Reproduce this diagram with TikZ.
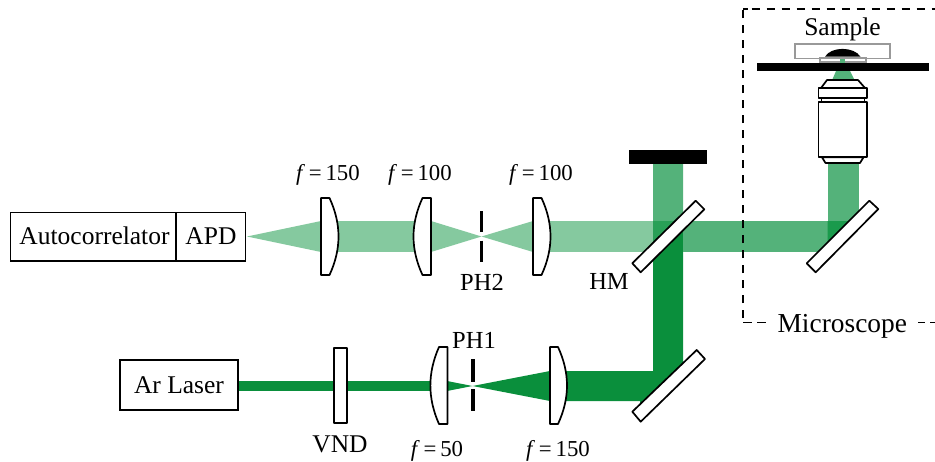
\documentclass[tikz,border=0pt]{standalone}
\usepackage{fontspec}
\setmainfont{Liberation Serif}
\definecolor{beamdark}{HTML}{0A8F3C}
\definecolor{beammid}{HTML}{54B27A}
\definecolor{beamlight}{HTML}{85C99F}
\definecolor{beamover}{HTML}{1A9A4C}
\definecolor{samplegray}{HTML}{999999}
\tikzset{
  x=1pt,y=-1pt,
  optic/.style={draw=black,line width=1.7pt,fill=white,line join=round},
  objpart/.style={draw=black,line width=1.7pt,fill=white,line join=round},
  boxed/.style={draw=black,line width=1.3pt,fill=white,inner sep=0pt},
  lbl/.style={anchor=base,inner sep=0pt,font=\fontsize{25.5}{26}\selectfont},
  lblb/.style={anchor=base,inner sep=0pt,font=\fontsize{24.5}{26}\selectfont},
  flbl/.style={anchor=base,inner sep=0pt,font=\fontsize{22.8}{24}\selectfont},
  pinhole/.style={line width=3.6pt,black},
  frameh/.style={line width=1.7pt,black,dash pattern=on 8pt off 7pt},
  framev/.style={line width=1.7pt,black,dash pattern=on 8pt off 7pt},
}
\newcommand{\ff}[1]{\textit{f}\,=\,#1}
\begin{document}
\begin{tikzpicture}
\useasboundingbox (0,0) rectangle (935,461);
% beams: excitation
\fill[beamdark] (238,381) rectangle (432,391);
\fill[beamdark] (447,381) -- (472.5,386) -- (447,391) -- cycle;
\fill[beamdark] (472.5,386) -- (550,371) -- (550,401) -- cycle;
\fill[beamdark] (565,371) -- (653,371) -- (653,250) -- (683,220) -- (683,366) -- (640,409) -- (640,401) -- (565,401) -- cycle;
% beams: reflected
\fill[beammid] (653,164) -- (683,164) -- (683,222) -- (653,252) -- cycle;
\fill[beammid] (683,221) rectangle (827.5,252);
\fill[beamover!75!beammid] (653,221) -- (683,221) -- (653,250) -- cycle;
\fill[beammid] (827.5,163) rectangle (858.5,225);
\fill[beamover] (827.5,221) -- (858.5,221) -- (827.5,252) -- cycle;
% beams: detection
\fill[beamlight] (548,221) -- (653,221) -- (653,252) -- (548,252) -- cycle;
\fill[beamlight] (533,221) -- (481.5,236.5) -- (533,252) -- cycle;
\fill[beamlight] (431,221) -- (481.5,236.5) -- (431,252) -- cycle;
\fill[beamlight] (335,221) rectangle (416,252);
\fill[beamlight] (321,221) -- (247,236.5) -- (321,252) -- cycle;
% boxes
\node[boxed,minimum width=165.7pt,minimum height=48.7pt] (corr) at (93.15,236.7) {};
\node[boxed,minimum width=69.7pt,minimum height=48.7pt] (apd) at (210.85,236.7) {};
\node[boxed,minimum width=118pt,minimum height=50pt] (laser) at (179,385) {};
\node[lbl] (corrt) at (94.5,244) {Autocorrelator};
\node[lbl] (apdt) at (211,244) {APD};
\node[lbl] (lasert) at (179,393) {Ar Laser};
% VND
\draw[optic] (334,348) rectangle (347,423);
% lenses
\draw[optic] (447.5,347) -- (439,347) .. controls (427.5,373) and (427.5,398) .. (439,424) -- (447.5,424) -- cycle;
\draw[optic] (550,347) -- (558,347) .. controls (570,373) and (570,398) .. (558,424) -- (550,424) -- cycle;
\draw[optic] (321,198) -- (329.5,198) .. controls (341.5,224) and (341.5,249) .. (329.5,275) -- (321,275) -- cycle;
\draw[optic] (431,198) -- (422.5,198) .. controls (410.5,224) and (410.5,249) .. (422.5,275) -- (431,275) -- cycle;
\draw[optic] (533,198) -- (541.5,198) .. controls (553.5,224) and (553.5,249) .. (541.5,275) -- (533,275) -- cycle;
% pinholes
\draw[pinhole] (473,359) -- (473,381.7);
\draw[pinhole] (473,389) -- (473,410.7);
\draw[pinhole] (481.5,211) -- (481.5,231.7);
\draw[pinhole] (481.5,240.7) -- (481.5,261.7);
% mirrors
\draw[optic] (696.7,350) -- (705,359) -- (640.7,421.7) -- (632.3,411.7) -- cycle;
\draw[optic] (695.7,200.7) -- (704.3,209.3) -- (640.7,272.3) -- (632.3,263.3) -- cycle;
\draw[optic] (869.3,200.7) -- (878.3,209) -- (815.7,272.3) -- (806.7,263.3) -- cycle;
% beam stop
\fill[black] (629,150) rectangle (707,164);
% objective and focused beam
\fill[beammid] (836,71) -- (850,71) -- (855,81) -- (831.7,81) -- cycle;
\draw[objpart] (827,80) -- (858,80) -- (865,88) -- (821,88) -- cycle;
\draw[objpart] (821.5,97.7) rectangle (864.5,102);
\draw[objpart] (818.5,88) rectangle (867,97.7);
\draw[objpart] (822,157.3) -- (863.5,157.3) -- (860,163) -- (825.5,163) -- cycle;
\draw[objpart] (818.5,102) rectangle (867,157.3);
% sample
\draw[samplegray,line width=1.3pt,fill=white] (795,44) rectangle (890,58.5);
\draw[samplegray,line width=1.3pt,fill=white] (820,58) rectangle (866,62);
\fill[black] (825,56.7) .. controls (831,46.3) and (854,46.3) .. (860.5,56.7) -- cycle;
\fill[beammid] (840,58.5) rectangle (845,63);
\fill[black] (756.7,62.5) rectangle (929,71.3);
% microscope frame
\coordinate (fb) at (743,322.5);
\coordinate (fa) at (767,322.5);
\coordinate (fv) at (743,318);
\coordinate (fc) at (743,9);
\coordinate (fs) at (751.5,9);
\coordinate (fk) at (748,9);
\coordinate (fd) at (935,9);
\coordinate (fe) at (918,322.5);
\coordinate (ff) at (935,322.5);
\draw[frameh,dash pattern=on 9pt off 5pt] (fb) -- (fa);
\draw[framev] (fv) -- (fc);
\draw[line width=1.7pt,black] (fc) -- (fk);
\draw[frameh] (fs) -- (fd);
\draw[frameh,dash pattern=on 7pt off 5pt] (fe) -- (ff);
% labels
\node[lbl] (sample) at (842.5,35) {Sample};
\node[lbl,font=\fontsize{27.4}{28}\selectfont] (micro) at (842.3,332) {Microscope};
\node[flbl] (f1) at (328,180) {\ff{150}};
\node[flbl] (f2) at (420,180) {\ff{100}};
\node[flbl] (f3) at (541,180) {\ff{100}};
\node[flbl] (f4) at (437,456) {\ff{50}};
\node[flbl] (f5) at (558,456) {\ff{150}};
\node[lblb] (ph2) at (482,290) {PH2};
\node[lblb] (ph1) at (474,348) {PH1};
\node[lblb] (hm) at (609,289) {HM};
\node[lbl] (vnd) at (340,452.5) {VND};
\end{tikzpicture}
\end{document}
